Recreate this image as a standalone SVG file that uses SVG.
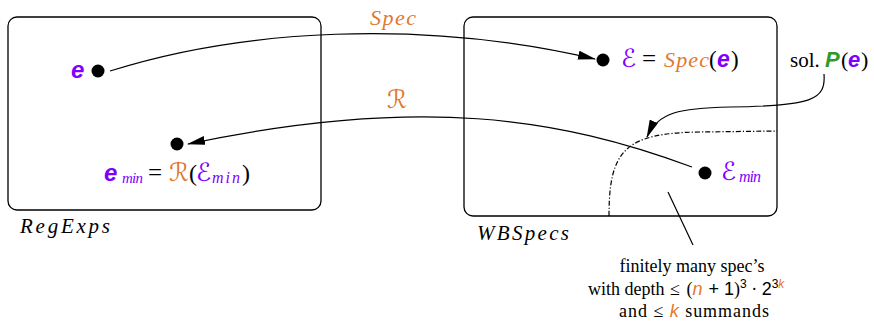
<svg xmlns="http://www.w3.org/2000/svg" width="874" height="321" viewBox="0 0 874 321">
<style>
.box{fill:none;stroke:#000;stroke-width:1.3}
.ln{fill:none;stroke:#000;stroke-width:1.2}
.dot{fill:#000}
.ser{font-family:"Liberation Serif","Times New Roman",serif;fill:#000}
.mi{font-family:"Liberation Serif","Times New Roman",serif;font-style:italic}
.sb{font-family:"Liberation Sans",Arial,sans-serif;font-weight:bold;font-style:italic}
.ss{font-family:"Liberation Sans",Arial,sans-serif}
.cal{font-family:"DejaVu Serif","DejaVu Sans",serif;font-style:normal}
.pu{fill:#8000ff}
.or{fill:#e0782f}
.gr{fill:#2e9a2a}
</style>
<defs>
<marker id="ah" viewBox="0 0 18 9" refX="17" refY="4.5" markerWidth="18" markerHeight="9" orient="auto" markerUnits="userSpaceOnUse">
<path d="M0,0 L18,4.5 L0,9 Z" fill="#000"/>
</marker>
</defs>
<rect fill="#fff" width="874" height="321"/>
<g id="regexps">
<rect class="box" x="8" y="17" width="313" height="193" rx="9"/>
<text class="mi" x="20" y="233" font-size="21" textLength="90" lengthAdjust="spacing">RegExps</text>
</g>
<g id="wbspecs">
<rect class="box" x="464" y="17" width="313" height="199" rx="9"/>
<text class="mi" x="477" y="240" font-size="21" textLength="92" lengthAdjust="spacing">WBSpecs</text>
<path class="ln" d="M609,216 C609,150 625,133 700,132 L777,131" stroke-dasharray="5 2 1.2 2"/>
</g>
<g id="node-e">
<circle class="dot" cx="98" cy="71" r="6.5"/>
<text class="sb pu" x="71" y="78" font-size="24">e</text>
</g>
<g id="node-emin">
<circle class="dot" cx="177" cy="144" r="6.5"/>
<text y="181" font-size="24"><tspan class="sb pu" x="104">e</tspan><tspan class="mi pu" font-size="15" x="122" y="183" textLength="21" lengthAdjust="spacing">min</tspan><tspan class="ser" x="148" y="181" font-size="25">=</tspan><tspan class="cal or" x="169" font-size="25">ℛ</tspan><tspan class="ser" x="189">(</tspan><tspan class="cal pu" x="196" font-size="25">ℰ</tspan><tspan class="mi pu" font-size="16" x="212" y="183" textLength="28" lengthAdjust="spacing">min</tspan><tspan class="ser" x="242" y="181">)</tspan></text>
</g>
<g id="node-E">
<circle class="dot" cx="603" cy="60" r="6.5"/>
<text y="67" font-size="24"><tspan class="cal pu" x="621" font-size="25">ℰ</tspan><tspan class="ser" x="642" font-size="25">=</tspan><tspan class="mi or" x="664" font-size="22" textLength="45" lengthAdjust="spacing">Spec</tspan><tspan class="ser" x="709" font-size="23">(</tspan><tspan class="sb pu" x="717" font-size="23">e</tspan><tspan class="ser" x="731" font-size="23">)</tspan></text>
</g>
<g id="node-Emin">
<circle class="dot" cx="705" cy="173" r="6.5"/>
<text y="180" font-size="24"><tspan class="cal pu" x="721" font-size="25">ℰ</tspan><tspan class="mi pu" font-size="16" x="739" y="182" textLength="22" lengthAdjust="spacing">min</tspan></text>
</g>
<g id="node-sol">
<text y="67" font-size="21"><tspan class="ser" x="790">sol.</tspan><tspan class="sb gr" font-size="22" x="825">P</tspan><tspan class="ser" x="841" font-size="22">(</tspan><tspan class="sb pu" font-size="22" x="848">e</tspan><tspan class="ser" x="861" font-size="22">)</tspan></text>
</g>
<g id="node-note">
<text class="ser" x="692" y="272" font-size="18" text-anchor="middle">finitely many spec’s</text>
<text x="588" y="295" font-size="18"><tspan class="ser">with depth </tspan><tspan class="ser" dx="1">≤ </tspan><tspan class="ser" dx="2">(</tspan><tspan class="ss or" font-style="italic">n</tspan><tspan class="ss" dx="1"> + 1</tspan><tspan class="ser">)</tspan><tspan class="ss" font-size="12" dy="-7">3</tspan><tspan class="ser" dy="7"> · </tspan><tspan class="ss">2</tspan><tspan class="ss" font-size="12" dy="-7">3</tspan><tspan class="ss or" font-size="12" font-style="italic">k</tspan></text>
<text x="619" y="317" font-size="18" textLength="150" lengthAdjust="spacing"><tspan class="ser">and ≤ </tspan><tspan class="ss or" font-style="italic">k</tspan><tspan class="ser"> summands</tspan></text>
</g>
<g id="connectors">
<path class="ln" d="M110,71 C240,30 420,18 595,59" marker-end="url(#ah)"/>
<text class="mi or" x="370" y="25" font-size="22" textLength="46" lengthAdjust="spacing">Spec</text>
<path class="ln" d="M692,167 C560,118 420,95 188,144" marker-end="url(#ah)"/>
<text class="cal or" x="387" y="108" font-size="25">ℛ</text>
<path class="ln" d="M824,74 C826,100 812,106 730,107 C680,108 658,112 647,137" marker-end="url(#ah)"/>
<path class="ln" d="M668,192 L693,245"/>
</g>
</svg>
